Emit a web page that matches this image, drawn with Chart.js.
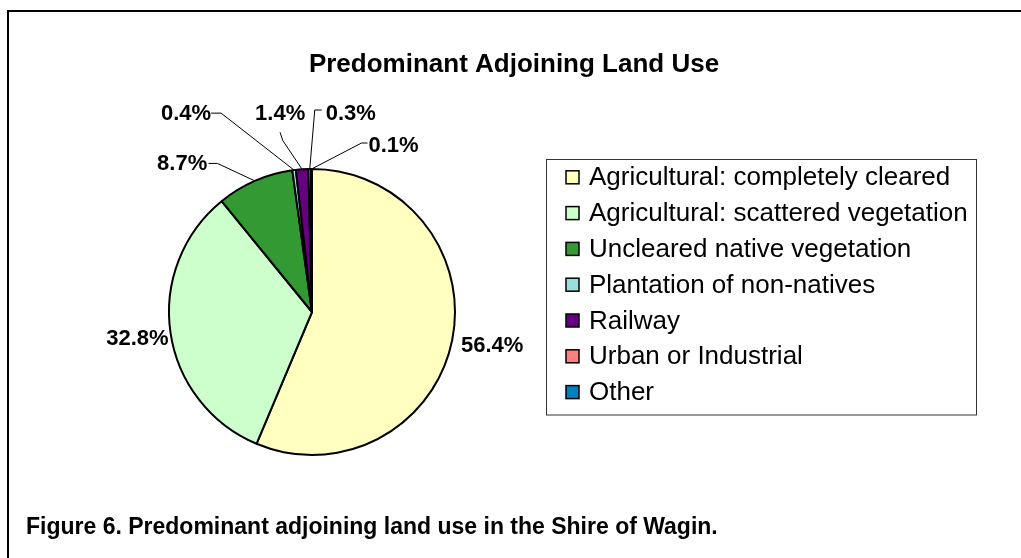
<!DOCTYPE html>
<html>
<head>
<meta charset="utf-8">
<script src="https://cdn.jsdelivr.net/npm/chart.js@4.4.1/dist/chart.umd.min.js"></script>
<style>
  html, body { margin: 0; padding: 0; background: #ffffff; }
  canvas { display: block; }
</style>
</head>
<body>
<canvas id="c" width="1021" height="558"></canvas>
<script>
// ---- data ----
const categories = [
  'Agricultural: completely cleared',
  'Agricultural: scattered vegetation',
  'Uncleared native vegetation',
  'Plantation of non-natives',
  'Railway',
  'Urban or Industrial',
  'Other'
];
const shares = [56.4, 32.8, 8.7, 0.4, 1.4, 0.3, 0.1];
const shareLabels = ['56.4%', '32.8%', '8.7%', '0.4%', '1.4%', '0.3%', '0.1%'];
const chartTitle = 'Predominant Adjoining Land Use';
const figureCaption = 'Figure 6. Predominant adjoining land use in the Shire of Wagin.';

// ---- styles ----
const sliceColors = ['#FFFFC0', '#CCFFCC', '#339933', '#99DDDD', '#660080', '#FF8080', '#0080C0'];
const FONT = '"Liberation Sans", Arial, Helvetica, sans-serif';
// label placement relative to the slice's outer mid-point (text centre + leader polyline)
const labelLayout = [
  { text: [40, 5], leader: null },
  { text: [-33, 6], leader: null },
  { text: [-72.7, -17.5], leader: [[0, 0], [-37.4, -17.5], [-46.4, -17.5]] },
  { text: [-108, -57], leader: [[0, 0], [-73, -57], [-83, -57]] },
  { text: [-22, -56], leader: [[0, 0], [-19.5, -29], [-22, -37]] },
  { text: [41, -56], leader: [[0, 0], [5, -59], [12, -59]] },
  { text: [82, -24], leader: [[0, 0], [50, -26], [56, -26]] }
];

const decorPlugin = {
  id: 'decor',
  beforeDraw(chart) {
    const ctx = chart.ctx;
    ctx.save();
    ctx.fillStyle = '#ffffff';
    ctx.fillRect(0, 0, chart.width, chart.height);
    ctx.restore();
  },
  afterDraw(chart) {
    const ctx = chart.ctx;
    ctx.save();
    // outer frame
    ctx.strokeStyle = '#000';
    ctx.lineWidth = 2;
    ctx.strokeRect(8, 11, 3000, 3000);

    // title
    ctx.fillStyle = '#000';
    ctx.font = 'bold 26px ' + FONT;
    ctx.textAlign = 'center';
    ctx.textBaseline = 'alphabetic';
    ctx.fillText(chartTitle, 514, 72);

    // caption
    ctx.font = 'bold 23px ' + FONT;
    ctx.textAlign = 'left';
    ctx.fillText(figureCaption, 26, 534);

    // legend
    ctx.strokeStyle = '#333';
    ctx.lineWidth = 1;
    ctx.strokeRect(546.5, 159.5, 430, 255.5);
    ctx.font = '26px ' + FONT;
    ctx.textBaseline = 'middle';
    const bg = chart.data.datasets[0].backgroundColor;
    chart.data.labels.forEach((lab, i) => {
      const cy = 177.3 + i * 35.8;
      ctx.fillStyle = bg[i];
      ctx.fillRect(566, cy - 6.5, 13, 13);
      ctx.strokeStyle = '#000';
      ctx.lineWidth = 1.5;
      ctx.strokeRect(566, cy - 6.5, 13, 13);
      ctx.fillStyle = '#000';
      ctx.fillText(lab, 589, cy + 1);
    });

    // data labels with leader lines
    const meta = chart.getDatasetMeta(0);
    ctx.font = 'bold 22px ' + FONT;
    ctx.textAlign = 'center';
    ctx.textBaseline = 'middle';
    meta.data.forEach((arc, i) => {
      const p = arc.getProps(['x', 'y', 'startAngle', 'endAngle', 'outerRadius'], true);
      const mid = (p.startAngle + p.endAngle) / 2;
      const ax = p.x + Math.cos(mid) * p.outerRadius;
      const ay = p.y + Math.sin(mid) * p.outerRadius;
      const L = labelLayout[i];
      if (L.leader) {
        ctx.strokeStyle = '#000';
        ctx.lineWidth = 1;
        ctx.beginPath();
        L.leader.forEach((pt, k) => {
          const px = ax + pt[0], py = ay + pt[1];
          if (k === 0) ctx.moveTo(px, py); else ctx.lineTo(px, py);
        });
        ctx.stroke();
      }
      ctx.fillStyle = '#000';
      ctx.fillText(shareLabels[i], ax + L.text[0], ay + L.text[1] + 1);
    });
    ctx.restore();
  }
};

new Chart(document.getElementById('c'), {
  type: 'pie',
  data: {
    labels: categories,
    datasets: [{
      data: shares,
      backgroundColor: sliceColors,
      borderColor: '#000',
      borderWidth: 2
    }]
  },
  options: {
    responsive: false,
    animation: false,
    layout: { padding: { left: 168, right: 565, top: 168, bottom: 102 } },
    plugins: {
      legend: { display: false },
      title: { display: false },
      tooltip: { enabled: false }
    }
  },
  plugins: [decorPlugin]
});
</script>
</body>
</html>
